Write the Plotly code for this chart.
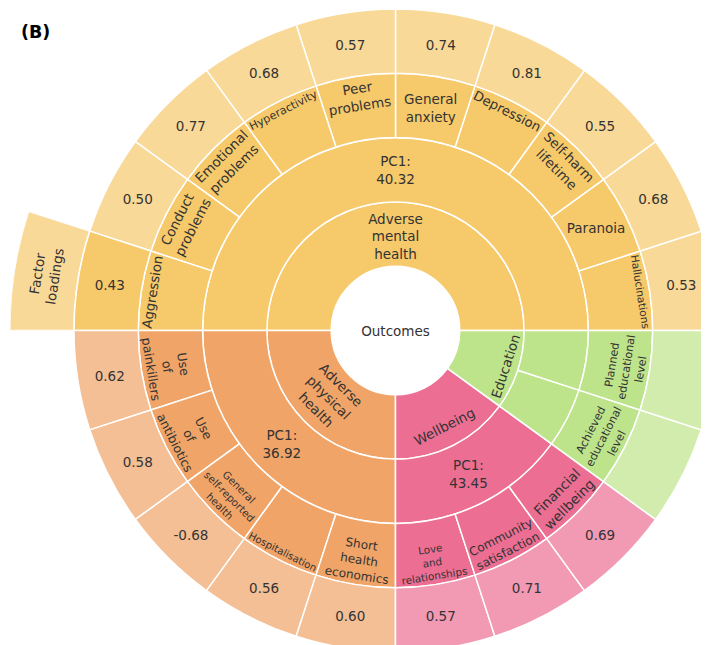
import math
import plotly.graph_objects as go

# ---------------- data ----------------
root_label = "Outcomes"

domain_ids = ["mental", "physical", "wellbeing", "education"]
domain_labels = ["Adverse<br>mental<br>health", "Adverse<br>physical<br>health", "Wellbeing", "Education"]
pc1_labels = ["PC1:<br>40.32", "PC1:<br>36.92", "PC1:<br>43.45", None]

mental_items = ["Hallucinations", "Paranoia", "Self-harm<br>lifetime", "Depression",
                "General<br>anxiety", "Peer<br>problems", "Hyperactivity",
                "Emotional<br>problems", "Conduct<br>problems", "Aggression"]
mental_loadings = [0.53, 0.68, 0.55, 0.81, 0.74, 0.57, 0.68, 0.77, 0.50, 0.43]

physical_items = ["Use<br>of<br>painkillers", "Use<br>of<br>antibiotics",
                  "General<br>self-reported<br>health", "Hospitalisation",
                  "Short<br>health<br>economics"]
physical_loadings = [0.62, 0.58, -0.68, 0.56, 0.60]

wellbeing_items = ["Love<br>and<br>relationships", "Community<br>satisfaction", "Financial<br>wellbeing"]
wellbeing_loadings = [0.57, 0.71, 0.69]

education_items = ["Achieved<br>educational<br>level", "Planned<br>educational<br>level"]
education_loadings = [None, None]

base_colors = ["#F6C96A", "#F0A467", "#EC6E93", "#BEE48B"]

note_item = "Aggression"          # the item whose loading carries the extra label
note_label = "Factor<br>loadings"

items_by_domain = [mental_items, physical_items, wellbeing_items, education_items]
loadings_by_domain = [mental_loadings, physical_loadings, wellbeing_loadings, education_loadings]

TEXT_COLOR = "#333333"

# ---------------- build hierarchy ----------------
def lighten(hex_color, alpha=0.7):
    h = hex_color.lstrip("#")
    r, g, b = (int(h[i:i + 2], 16) for i in (0, 2, 4))
    mix = lambda c: round(alpha * c + (1 - alpha) * 255)
    return "rgb({},{},{})".format(mix(r), mix(g), mix(b))

ids, labels, parents, values, colors = [], [], [], [], []

ids.append("root"); labels.append(root_label); parents.append(""); values.append(0); colors.append("white")

leaf_order = []
for d, dlab, pc1, items, loads, col in zip(domain_ids, domain_labels, pc1_labels,
                                           items_by_domain, loadings_by_domain, base_colors):
    ids.append(d); labels.append(dlab); parents.append("root"); values.append(0); colors.append(col)
    if pc1 is not None:
        pid = d + "/pc1"
        ids.append(pid); labels.append(pc1); parents.append(d); values.append(0); colors.append(col)
    for k, (it, ld) in enumerate(zip(items, loads)):
        if pc1 is None:
            pid = "{}/lvl2/{}".format(d, k)
            ids.append(pid); labels.append(""); parents.append(d); values.append(0); colors.append(col)
        iid = "{}/item/{}".format(d, k)
        ids.append(iid); labels.append(it); parents.append(pid); values.append(0); colors.append(col)
        lid = iid + "/load"
        txt = "" if ld is None else "{:.2f}".format(ld)
        leaf_col = col if it == note_item else lighten(col)
        ids.append(lid); labels.append(txt); parents.append(iid); values.append(1); colors.append(leaf_col)
        leaf_order.append((it, col))

# ---------------- geometry ----------------
W, H = 709, 645
R = 321.5                      # outer radius of the 5-level sunburst
sun_x0 = (W - 2 * R) / W
cx = W * (sun_x0 + 1) / 2
cy = H / 2
ring = R / 5

fig = go.Figure()

fig.add_trace(go.Sunburst(
    ids=ids, labels=labels, parents=parents, values=values,
    branchvalues="remainder", sort=False, rotation=0,
    marker=dict(colors=colors, line=dict(color="white", width=1.5)),
    leaf=dict(opacity=1),
    textinfo="label",
    insidetextorientation="auto",
    textfont=dict(family="DejaVu Sans", size=13.5, color=TEXT_COLOR),
    hoverinfo="skip",
    domain=dict(x=[sun_x0, 1], y=[0, 1]),
))

# extra wedge ("Factor loadings") outside the last ring, aligned with its item
n_leaves = len(leaf_order)
names = [p[0] for p in leaf_order]
idx = names.index(note_item)
step = 360 / n_leaves
th0, th1 = idx * step, (idx + 1) * step
thm = (th0 + th1) / 2
note_col = lighten(leaf_order[idx][1])

R6 = 6 * ring
s_top = max(math.sin(math.radians(th0)), math.sin(math.radians(th1)))
px_left = cx - R6
px_top = cy - R6 * s_top

fig.add_trace(go.Barpolar(
    r=[1], base=[5], theta=[thm], width=[step],
    marker=dict(color=note_col, line=dict(color="white", width=1.5)),
    hoverinfo="skip", subplot="polar",
))

fig.update_layout(
    polar=dict(
        domain=dict(x=[px_left / W, cx / W], y=[1 - cy / H, 1 - px_top / H]),
        sector=[th0, th1],
        bgcolor="rgba(0,0,0,0)",
        radialaxis=dict(visible=False, range=[0, 6]),
        angularaxis=dict(visible=False, direction="counterclockwise", rotation=0),
    ),
)

r_mid = 5.5 * ring
ax = cx + r_mid * math.cos(math.radians(thm))
ay = cy - r_mid * math.sin(math.radians(thm))
fig.add_annotation(
    x=ax / W, y=1 - ay / H, xref="paper", yref="paper",
    text=note_label, showarrow=False, textangle=-(thm - 90),
    xanchor="center", yanchor="middle",
    font=dict(family="DejaVu Sans", size=13.5, color=TEXT_COLOR),
)

fig.add_annotation(
    x=11 / W, y=1 - 24 / H, xref="paper", yref="paper",
    text="<b>(B)</b>", showarrow=False, xanchor="left", yanchor="middle",
    font=dict(family="DejaVu Sans", size=17.5, color="black"),
)

fig.update_layout(
    width=W, height=H,
    margin=dict(l=0, r=0, t=0, b=0),
    paper_bgcolor="white", plot_bgcolor="white",
    showlegend=False,
)

fig.write_html("out.html")
